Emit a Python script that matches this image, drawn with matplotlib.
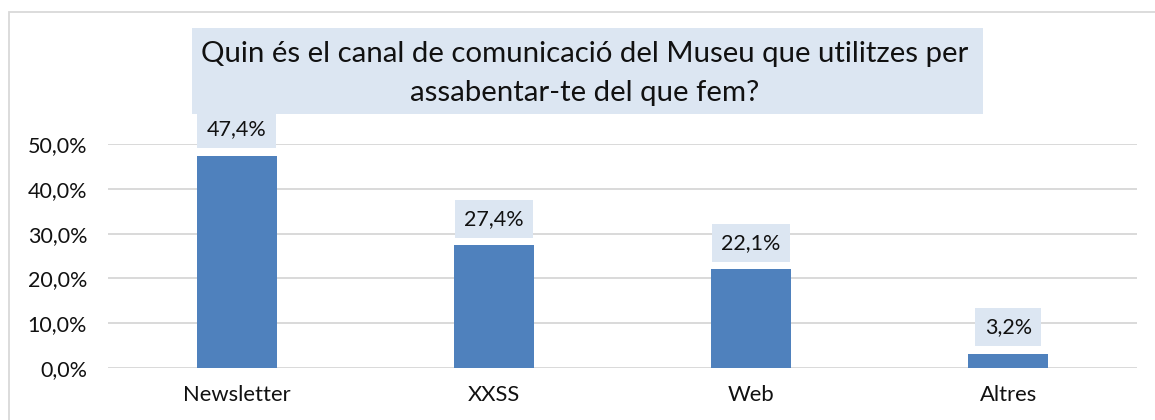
import matplotlib
matplotlib.use('Agg')
import matplotlib.pyplot as plt
from matplotlib.patches import Rectangle
from matplotlib.ticker import FuncFormatter, MultipleLocator

categories = ['Newsletter', 'XXSS', 'Web', 'Altres']
values = [47.4, 27.4, 22.1, 3.2]
value_labels = ['47,4%', '27,4%', '22,1%', '3,2%']
title_lines = ['Quin és el canal de comunicació del Museu que utilitzes per',
               'assabentar-te del que fem?']

plt.rcParams['font.family'] = ['Lato', 'DejaVu Sans']
TXT = '#111111'
BOX = '#dce6f2'
W, H = 1155, 420
fig = plt.figure(figsize=(W / 100, H / 100), dpi=100)

# outer chart border (left/top visible)
fig.patches.append(Rectangle((9 / W, -0.1), 1.2, 1 - 12 / H + 0.1, transform=fig.transFigure,
                             fill=False, edgecolor='#d9d9d9', lw=1.3))

ax = fig.add_axes([108 / W, 1 - 368 / H, (1137 - 108) / W, (368 - 144) / H])
ax.set_facecolor('none')
x = list(range(len(categories)))
ax.bar(x, values, width=0.311, color='#4f81bd', zorder=3)
ax.set_xlim(-0.5, len(categories) - 0.5)
ax.set_ylim(0, 50)
ax.yaxis.set_major_locator(MultipleLocator(10))
ax.yaxis.set_major_formatter(FuncFormatter(lambda v, p: f'{v:.1f}%'.replace('.', ',')))
ax.set_xticks(x)
ax.set_xticklabels(categories)
ax.grid(axis='y', color='#d9d9d9', lw=1.4, zorder=0)
for s in ax.spines.values():
    s.set_visible(False)
ax.tick_params(axis='y', length=0, labelsize=15.5, colors=TXT, pad=15)
ax.tick_params(axis='x', length=0, labelsize=15.8, colors=TXT, pad=12)

texts = []
for xi, v, lab in zip(x, values, value_labels):
    t = ax.annotate(lab, (xi, v), xytext=(0, 19), textcoords='offset points',
                    ha='center', va='center', fontsize=15.5, color=TXT, zorder=6,
                    annotation_clip=False)
    texts.append(t)

# title box
fig.patches.append(Rectangle((192 / W, 1 - 114 / H), (983 - 192) / W, (114 - 28) / H,
                             transform=fig.transFigure, facecolor=BOX, edgecolor='none'))
fig.text(585 / W, 1 - 62 / H, title_lines[0], ha='center', va='baseline', fontsize=21.2, color=TXT)
fig.text(585 / W, 1 - 101 / H, title_lines[1], ha='center', va='baseline', fontsize=21.2, color=TXT)

fig.canvas.draw()
r = fig.canvas.get_renderer()
inv = ax.transData.inverted()
for t in texts:
    bb = t.get_window_extent(r)
    cx = (bb.x0 + bb.x1) / 2
    cy = (bb.y0 + bb.y1) / 2
    w = bb.width + 19
    h = 38
    (x0, y0) = inv.transform((cx - w / 2, cy - h / 2))
    (x1, y1) = inv.transform((cx + w / 2, cy + h / 2))
    ax.add_patch(Rectangle((x0, y0), x1 - x0, y1 - y0, facecolor=BOX, edgecolor='none',
                           zorder=5, clip_on=False))

fig.savefig('out.png', dpi=100)
